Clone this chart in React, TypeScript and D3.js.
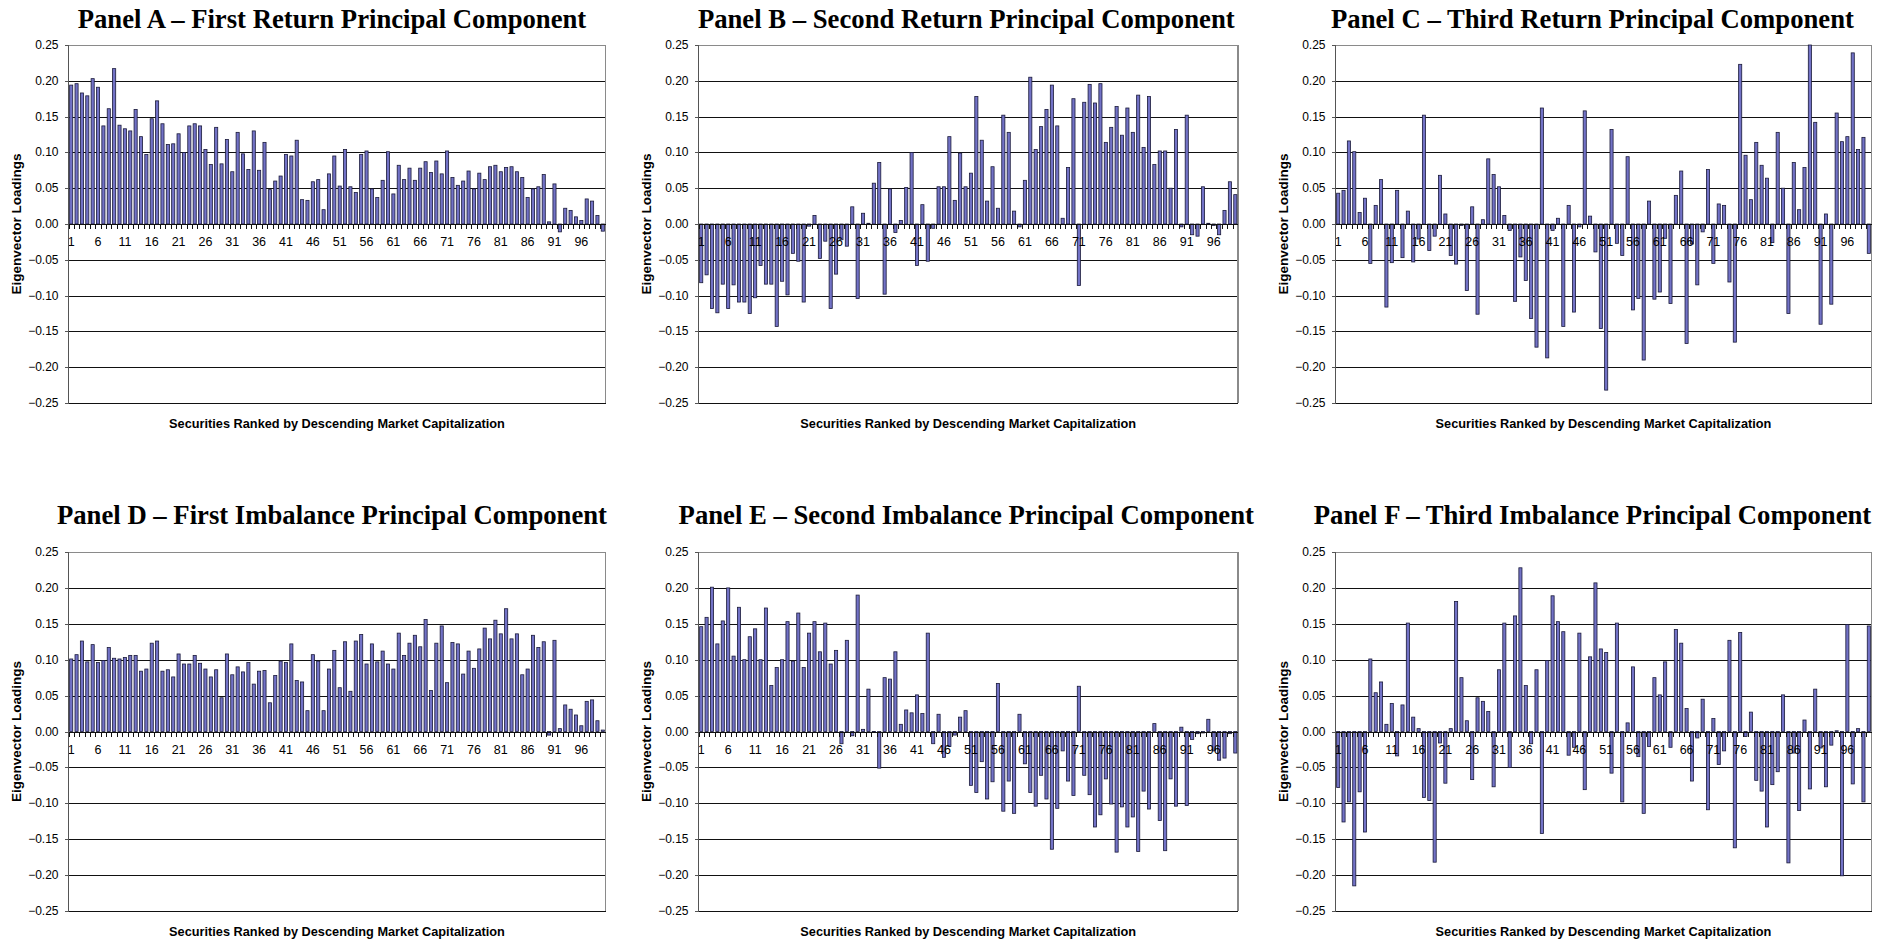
import React from "react";
import * as d3 from "d3";

const categories: number[] = d3.range(1, 101);
const yTicks: number[] = [0.25, 0.2, 0.15, 0.1, 0.05, 0, -0.05, -0.1, -0.15, -0.2, -0.25];
const xTickLabels: number[] = [1, 6, 11, 16, 21, 26, 31, 36, 41, 46, 51, 56, 61, 66, 71, 76, 81, 86, 91, 96];

const titles: string[] = [
  "Panel A \u2013 First Return Principal Component",
  "Panel B \u2013 Second Return Principal Component",
  "Panel C \u2013 Third Return Principal Component",
  "Panel D \u2013 First Imbalance Principal Component",
  "Panel E \u2013 Second Imbalance Principal Component",
  "Panel F \u2013 Third Imbalance Principal Component",
];

const panelA: number[] = [
  0.194, 0.196, 0.183, 0.179, 0.203, 0.191, 0.137, 0.161, 0.217, 0.138,
  0.133, 0.130, 0.160, 0.122, 0.097, 0.147, 0.172, 0.140, 0.111, 0.112,
  0.126, 0.100, 0.137, 0.140, 0.137, 0.104, 0.083, 0.135, 0.084, 0.118,
  0.073, 0.128, 0.098, 0.076, 0.130, 0.075, 0.114, 0.048, 0.060, 0.067,
  0.097, 0.095, 0.117, 0.034, 0.033, 0.059, 0.062, 0.020, 0.070, 0.095,
  0.053, 0.104, 0.052, 0.044, 0.097, 0.102, 0.049, 0.037, 0.061, 0.101,
  0.042, 0.082, 0.062, 0.078, 0.061, 0.078, 0.087, 0.072, 0.088, 0.070,
  0.102, 0.065, 0.054, 0.060, 0.074, 0.049, 0.071, 0.062, 0.080, 0.082,
  0.073, 0.079, 0.080, 0.073, 0.065, 0.037, 0.049, 0.052, 0.069, 0.003,
  0.056, -0.011, 0.022, 0.019, 0.010, 0.005, 0.035, 0.032, 0.012, -0.010,
];

const panelB: number[] = [
  -0.082, -0.071, -0.118, -0.124, -0.084, -0.118, -0.085, -0.109, -0.109, -0.125,
  -0.103, -0.058, -0.084, -0.084, -0.143, -0.080, -0.099, -0.041, -0.052, -0.109,
  -0.003, 0.012, -0.048, -0.024, -0.118, -0.070, -0.022, -0.031, 0.024, -0.104,
  0.015, 0.001, 0.057, 0.086, -0.098, 0.049, -0.012, 0.005, 0.051, 0.100,
  -0.058, 0.027, -0.052, -0.006, 0.052, 0.052, 0.122, 0.033, 0.099, 0.052,
  0.071, 0.178, 0.117, 0.032, 0.080, 0.022, 0.152, 0.128, 0.018, -0.004,
  0.061, 0.205, 0.104, 0.136, 0.160, 0.194, 0.137, 0.008, 0.079, 0.175,
  -0.086, 0.170, 0.195, 0.169, 0.196, 0.114, 0.135, 0.164, 0.124, 0.162,
  0.128, 0.180, 0.107, 0.178, 0.083, 0.102, 0.102, 0.050, 0.132, -0.004,
  0.152, -0.015, -0.017, 0.052, 0.001, -0.002, -0.015, 0.019, 0.059, 0.041,
];

const panelC: number[] = [
  0.043, 0.047, 0.116, 0.101, 0.016, 0.036, -0.055, 0.026, 0.062, -0.116,
  -0.054, 0.047, -0.047, 0.018, -0.053, -0.021, 0.152, -0.037, -0.017, 0.068,
  0.014, -0.044, -0.056, -0.002, -0.093, 0.024, -0.126, 0.006, 0.091, 0.069,
  0.052, 0.012, -0.009, -0.108, -0.046, -0.079, -0.132, -0.172, 0.162, -0.187,
  -0.009, 0.008, -0.143, 0.026, -0.123, -0.004, 0.158, 0.011, -0.039, -0.146,
  -0.232, 0.132, -0.027, -0.044, 0.094, -0.120, -0.104, -0.190, 0.032, -0.105,
  -0.095, -0.020, -0.111, 0.040, 0.074, -0.167, -0.028, -0.085, -0.011, 0.076,
  -0.055, 0.028, 0.026, -0.081, -0.165, 0.223, 0.096, 0.034, 0.114, 0.082,
  0.064, -0.026, 0.128, 0.050, -0.125, 0.086, 0.020, 0.079, 0.250, 0.142,
  -0.140, 0.014, -0.112, 0.155, 0.115, 0.122, 0.239, 0.104, 0.121, -0.041,
];

const panelD: number[] = [
  0.101, 0.107, 0.126, 0.097, 0.121, 0.096, 0.099, 0.117, 0.102, 0.101,
  0.103, 0.106, 0.106, 0.084, 0.087, 0.123, 0.126, 0.084, 0.086, 0.076,
  0.108, 0.094, 0.094, 0.106, 0.095, 0.087, 0.076, 0.086, 0.047, 0.108,
  0.079, 0.090, 0.083, 0.096, 0.066, 0.084, 0.085, 0.040, 0.078, 0.098,
  0.096, 0.122, 0.071, 0.069, 0.029, 0.107, 0.098, 0.029, 0.087, 0.113,
  0.061, 0.125, 0.056, 0.126, 0.135, 0.094, 0.122, 0.097, 0.112, 0.094,
  0.087, 0.137, 0.106, 0.123, 0.134, 0.118, 0.156, 0.057, 0.123, 0.147,
  0.068, 0.124, 0.122, 0.080, 0.112, 0.088, 0.115, 0.144, 0.129, 0.155,
  0.136, 0.171, 0.129, 0.136, 0.079, 0.087, 0.134, 0.117, 0.125, -0.005,
  0.127, 0.004, 0.037, 0.031, 0.023, 0.008, 0.042, 0.044, 0.015, 0.002,
];

const panelE: number[] = [
  0.146, 0.159, 0.201, 0.122, 0.154, 0.200, 0.105, 0.173, 0.100, 0.132,
  0.143, 0.100, 0.172, 0.064, 0.089, 0.100, 0.153, 0.098, 0.165, 0.089,
  0.137, 0.153, 0.111, 0.151, 0.094, 0.113, -0.017, 0.127, -0.006, 0.190,
  0.003, 0.059, 0.000, -0.051, 0.075, 0.073, 0.111, 0.010, 0.030, 0.026,
  0.051, 0.025, 0.137, -0.017, 0.024, -0.036, -0.021, -0.005, 0.020, 0.029,
  -0.075, -0.085, -0.042, -0.094, -0.070, 0.067, -0.111, -0.069, -0.114, 0.024,
  -0.045, -0.085, -0.104, -0.061, -0.094, -0.164, -0.107, -0.027, -0.069, -0.089,
  0.063, -0.061, -0.088, -0.133, -0.116, -0.066, -0.101, -0.168, -0.105, -0.133,
  -0.119, -0.167, -0.083, -0.108, 0.011, -0.124, -0.166, -0.066, -0.104, 0.006,
  -0.103, -0.011, -0.003, -0.002, 0.017, -0.027, -0.040, -0.037, -0.003, -0.030,
];

const panelF: number[] = [
  -0.078, -0.126, -0.098, -0.215, -0.084, -0.140, 0.101, 0.054, 0.069, 0.010,
  0.039, -0.034, 0.037, 0.151, 0.020, 0.004, -0.092, -0.096, -0.182, -0.016,
  -0.072, 0.004, 0.181, 0.075, 0.015, -0.067, 0.047, 0.042, 0.028, -0.077,
  0.086, 0.151, -0.050, 0.161, 0.228, 0.064, -0.017, 0.086, -0.142, 0.099,
  0.189, 0.153, 0.139, -0.033, -0.022, 0.137, -0.081, 0.104, 0.207, 0.115,
  0.110, -0.058, 0.151, -0.098, 0.012, 0.090, -0.035, -0.114, -0.021, 0.075,
  0.051, 0.097, -0.022, 0.142, 0.123, 0.032, -0.069, -0.009, 0.045, -0.109,
  0.018, -0.046, -0.027, 0.127, -0.162, 0.138, -0.007, 0.027, -0.068, -0.083,
  -0.133, -0.074, -0.056, 0.051, -0.183, -0.030, -0.110, 0.016, -0.080, 0.059,
  -0.023, -0.077, -0.019, 0.001, -0.201, 0.149, -0.073, 0.004, -0.098, 0.147,
];

const series: number[][] = [panelA, panelB, panelC, panelD, panelE, panelF];

const W = 1891;
const H = 943;
const cols = [
  { x0: 68.5, x1: 605.5, titleDx: -5 },
  { x0: 698.5, x1: 1238, titleDx: -2 },
  { x0: 1335.5, x1: 1871.5, titleDx: -11 },
];
const rows = [
  { y0: 45, y1: 403, titleY: 28 },
  { y0: 552, y1: 911, titleY: 524 },
];

const sans = "'Liberation Sans', Arial, sans-serif";
const serif = "'Liberation Serif', 'Times New Roman', serif";

function Panel({ idx }: { idx: number }) {
  const col = cols[idx % 3];
  const row = rows[Math.floor(idx / 3)];
  const values = series[idx];
  const x = d3
    .scaleBand<number>()
    .domain(categories)
    .range([col.x0, col.x1])
    .paddingInner(0.42)
    .paddingOuter(0.21);
  const y = d3.scaleLinear().domain([-0.25, 0.25]).range([row.y1, row.y0]);
  const fmt = d3.format(".2f");
  const y0 = Math.round(y(0)) + 0.5;
  const step = x.step();
  const cx = (c: number) => (x(c) as number) + x.bandwidth() / 2;
  return (
    <g>
      <text
        x={(col.x0 + col.x1) / 2 + col.titleDx}
        y={row.titleY}
        textAnchor="middle"
        fontFamily={serif}
        fontWeight="bold"
        fontSize={26.7}
        fill="#000"
      >
        {titles[idx]}
      </text>
      {yTicks.map((t) => {
        const yy = Math.round(y(t)) + 0.5;
        const isTop = t === 0.25;
        return (
          <line
            key={"g" + t}
            x1={col.x0}
            x2={col.x1}
            y1={yy}
            y2={yy}
            stroke={isTop ? "#8a8a8a" : "#111"}
            strokeWidth={1}
            shapeRendering="crispEdges"
          />
        );
      })}
      <line
        x1={col.x1}
        x2={col.x1}
        y1={row.y0}
        y2={row.y1}
        stroke="#8a8a8a"
        strokeWidth={1.5}
        shapeRendering="crispEdges"
      />
      {values.map((v, i) => {
        const c = categories[i];
        const top = y(Math.max(0, v));
        const bot = y(Math.min(0, v));
        return (
          <rect
            key={"b" + c}
            x={x(c)}
            y={top}
            width={x.bandwidth()}
            height={Math.max(0.6, bot - top)}
            fill="#7272c6"
            stroke="#1a1a3a"
            strokeWidth={0.8}
          />
        );
      })}
      <line x1={col.x0} x2={col.x1} y1={y0} y2={y0} stroke="#111" strokeWidth={1} shapeRendering="crispEdges" />
      {categories.map((c) => {
        const xx = Math.round((x(c) as number) - (step - x.bandwidth()) / 2) + 0.5;
        return (
          <line key={"t" + c} x1={xx} x2={xx} y1={y0} y2={y0 + 4} stroke="#111" strokeWidth={1} shapeRendering="crispEdges" />
        );
      })}
      {xTickLabels.map((c) => (
        <text
          key={"xl" + c}
          x={cx(c)}
          y={y(0) + 19}
          textAnchor="middle"
          dominantBaseline="middle"
          fontFamily={sans}
          fontSize={12.5}
          fill="#000"
        >
          {c}
        </text>
      ))}
      <line x1={col.x0} x2={col.x0} y1={row.y0} y2={row.y1} stroke="#555" strokeWidth={1.2} shapeRendering="crispEdges" />
      {yTicks.map((t) => {
        const yy = Math.round(y(t)) + 0.5;
        return (
          <g key={"yt" + t}>
            <line x1={col.x0 - 4} x2={col.x0} y1={yy} y2={yy} stroke="#555" strokeWidth={1} shapeRendering="crispEdges" />
            <text
              x={col.x0 - 10}
              y={yy}
              textAnchor="end"
              dominantBaseline="middle"
              fontFamily={sans}
              fontSize={12}
              fill="#000"
            >
              {fmt(t)}
            </text>
          </g>
        );
      })}
      <text
        transform={`translate(${col.x0 - 51},${(row.y0 + row.y1) / 2}) rotate(-90)`}
        textAnchor="middle"
        dominantBaseline="middle"
        fontFamily={sans}
        fontWeight="bold"
        fontSize={12.75}
        textLength={141}
        lengthAdjust="spacingAndGlyphs"
        fill="#000"
      >
        Eigenvector Loadings
      </text>
      <text
        x={(col.x0 + col.x1) / 2}
        y={row.y1 + 22}
        textAnchor="middle"
        dominantBaseline="middle"
        fontFamily={sans}
        fontWeight="bold"
        fontSize={12.75}
        fill="#000"
      >
        Securities Ranked by Descending Market Capitalization
      </text>
    </g>
  );
}

export default function App() {
  return (
    <svg
      width={W}
      height={H}
      viewBox={`0 0 ${W} ${H}`}
      style={{ position: "absolute", left: 0, top: 0, background: "#fff" }}
    >
      <rect x={0} y={0} width={W} height={H} fill="#fff" />
      {[0, 1, 2, 3, 4, 5].map((i) => (
        <Panel key={i} idx={i} />
      ))}
    </svg>
  );
}
